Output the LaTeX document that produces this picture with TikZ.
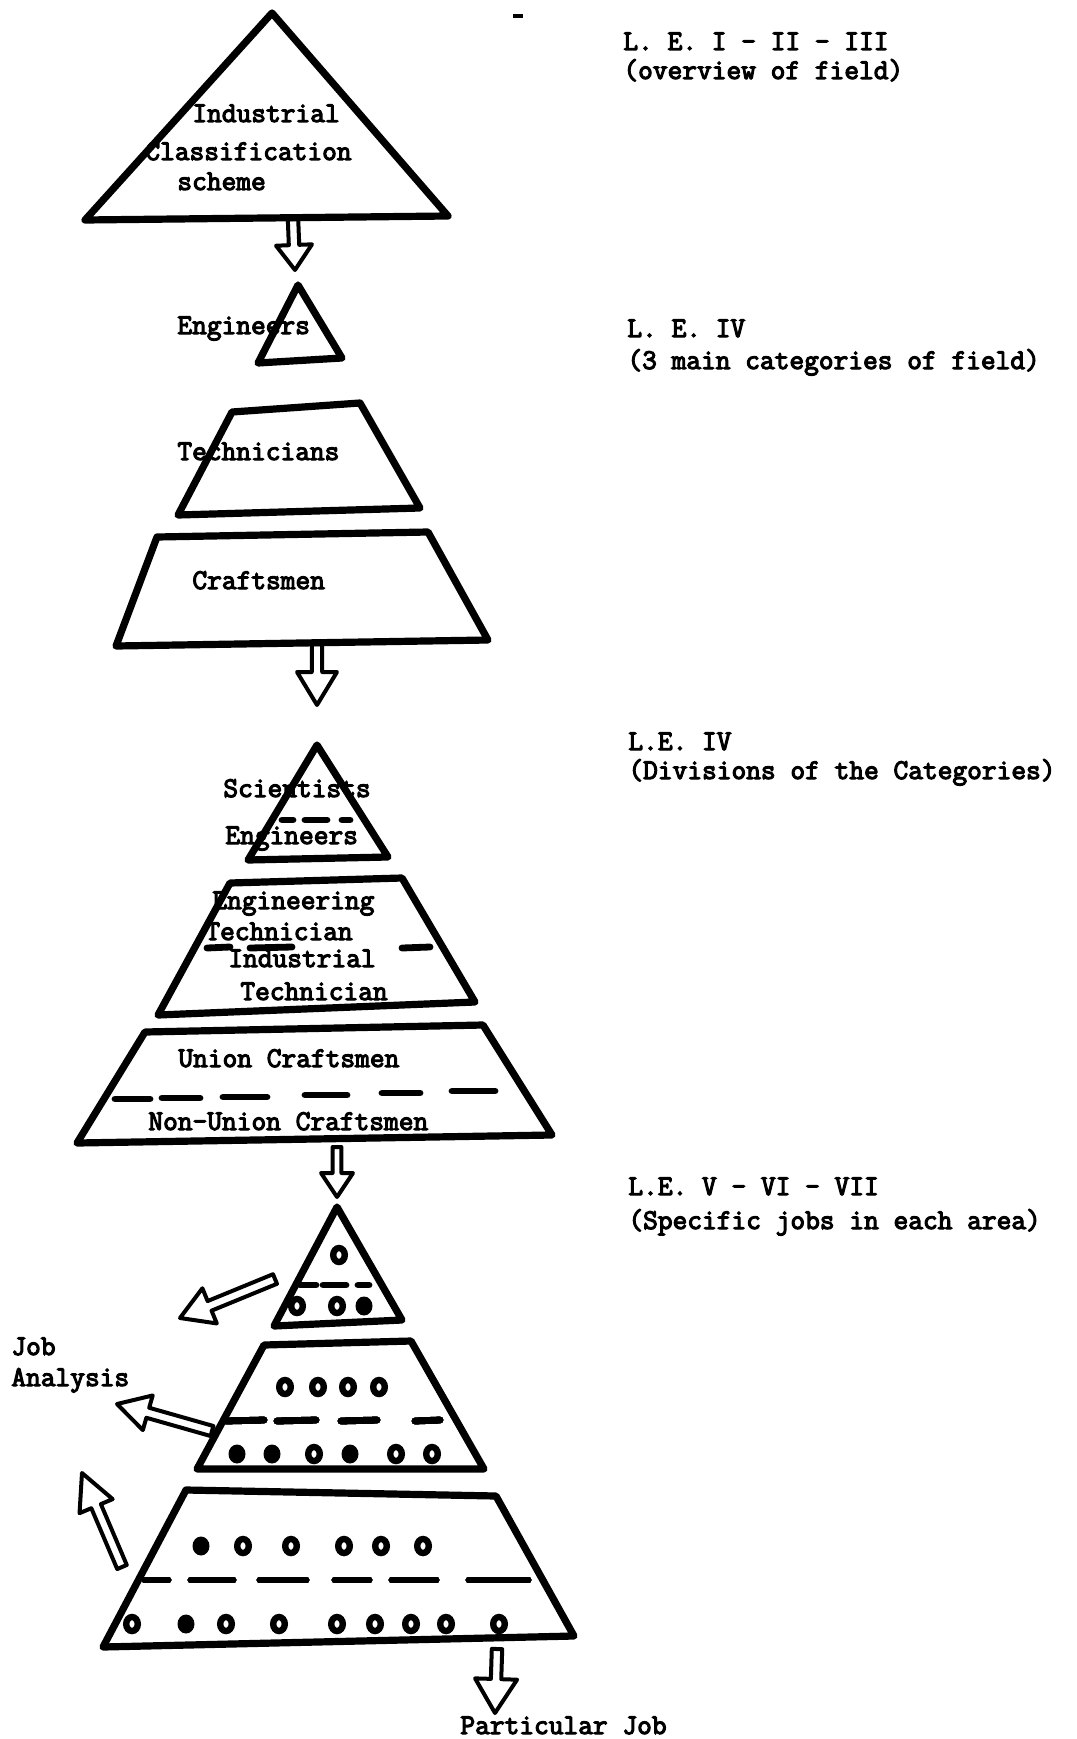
\documentclass[tikz,border=0pt]{standalone}
\usepackage{fontspec}
\newfontfamily\tw{Latin Modern Mono}[FakeBold=4]
\usetikzlibrary{calc}
\tikzset{
  x=0.5pt, y=-0.5pt,
  shapeline/.style={line width=3.6pt, line join=round, line cap=round},
  dashline/.style={line width=3.4pt, line cap=round},
  arrowline/.style={line width=2pt, line join=round},
  ring/.style={line width=3.2pt},
  lbl/.style={anchor=base west, inner sep=0pt, font=\tw\fontsize{14.3}{15}\selectfont},
}
\newcommand{\harrow}[5]{%
  \coordinate (hh) at ($(#2)!#4!(#1)$);
  \draw[arrowline] ($(#1)!#3!90:(#2)$) -- ($(hh)!#3!90:(#2)$) -- ($(hh)!#5!90:(#2)$) -- (#2)
     -- ($(hh)!#5!-90:(#2)$) -- ($(hh)!#3!-90:(#2)$) -- ($(#1)!#3!-90:(#2)$) -- cycle;
}
\newcommand{\ringat}[2]{\draw[ring] (#1,#2) ellipse[x radius=5.8, y radius=7];}
\newcommand{\dotat}[2]{\fill (#1,#2) ellipse[x radius=8.5, y radius=9.5];}
\begin{document}
\begin{tikzpicture}
\useasboundingbox (0,0) rectangle (1076,1739);
% ---------- Level 1: Industrial classification scheme
\draw[shapeline] (272,13) -- (448,216) -- (85,220) -- cycle;
\node[lbl] (ind1) at (192,122) {Industrial};
\node[lbl] (ind2) at (145,160) {Classification};
\node[lbl] (ind3) at (177,190) {scheme};
\coordinate (a1s) at (293,219);
\coordinate (a1e) at (295,270);
\harrow{a1s}{a1e}{2.6pt}{12.5pt}{9pt}
% ---------- Level 2: three main categories
\draw[shapeline] (298,285) -- (342,358) -- (258,363) -- cycle;
\node[lbl] (eng) at (177,334) {Engineers};
\draw[shapeline] (232,412) -- (360,403) -- (420,508) -- (178,515) -- cycle;
\node[lbl] (tech) at (177,460) {Technicians};
\draw[shapeline] (157,537) -- (428,532) -- (488,640) -- (116,646) -- cycle;
\node[lbl] (craft) at (192,589) {Craftsmen};
\coordinate (a2s) at (317,644);
\coordinate (a2e) at (317,705);
\harrow{a2s}{a2e}{2.6pt}{16.5pt}{10pt}
% ---------- Level 3: divisions of the categories
\draw[shapeline] (317,745) -- (388,857) -- (248,860) -- cycle;
\foreach \xa/\xb in {282/293,305/327,342/350} \draw[dashline] (\xa,820) -- (\xb,820);
\node[lbl] (sci) at (223,797) {Scientists};
\node[lbl] (eng2) at (225,844) {Engineers};
\draw[shapeline] (230,883) -- (402,878) -- (475,1002) -- (158,1015) -- cycle;
\foreach \xa/\xb in {207/230,250/292,402/430} \draw[dashline] (\xa,948) -- (\xb,947);
\node[lbl] (et1) at (212,909) {Engineering};
\node[lbl] (et2) at (205,940) {Technician};
\node[lbl] (it1) at (228,967) {Industrial};
\node[lbl] (it2) at (240,1000) {Technician};
\draw[shapeline] (145,1032) -- (483,1025) -- (552,1135) -- (77,1143) -- cycle;
\foreach \xa/\xb/\yy in {115/150/1099,162/200/1098,223/267/1097,305/347/1095,382/420/1093,452/495/1091}
  \draw[dashline] (\xa,\yy) -- (\xb,\yy);
\node[lbl] (uc) at (178,1067) {Union Craftsmen};
\node[lbl] (nuc) at (148,1130) {Non-Union Craftsmen};
\coordinate (a3s) at (337,1147);
\coordinate (a3e) at (337,1197);
\harrow{a3s}{a3e}{2.2pt}{12pt}{8pt}
% ---------- Level 4: specific jobs
\draw[shapeline] (337,1207) -- (402,1320) -- (274,1326) -- cycle;
\ringat{339}{1255}
\foreach \xa/\xb in {300/316,323/346,358/369} \draw[dashline] (\xa,1285) -- (\xb,1285);
\ringat{297}{1306} \ringat{337}{1306} \dotat{364}{1306}
\draw[shapeline] (264,1345) -- (411,1341) -- (484,1469) -- (197,1469) -- cycle;
\foreach \xx in {285,318,348,379} \ringat{\xx}{1387}
\foreach \xa/\xb in {226/264,277/316,341/377,415/440} \draw[dashline] (\xa,1421) -- (\xb,1420);
\dotat{237}{1454} \dotat{272}{1454} \ringat{314}{1454} \dotat{350}{1454} \ringat{396}{1454} \ringat{432}{1454}
\draw[shapeline] (186,1490) -- (496,1496) -- (574,1636) -- (103,1647) -- cycle;
\dotat{201}{1546}
\foreach \xx in {243,291,344,381,423} \ringat{\xx}{1546}
\foreach \xa/\xb in {145/168,191/233,260/306,335/369,392/436,469/528} \draw[dashline] (\xa,1580) -- (\xb,1580);
\ringat{132}{1624} \dotat{186}{1624}
\foreach \xx in {226,279,337,375,411,446,499} \ringat{\xx}{1624}
% job analysis arrows
\coordinate (a4s) at (275,1279);
\coordinate (a4e) at (180,1318);
\harrow{a4s}{a4e}{2.6pt}{16pt}{9.5pt}
\coordinate (a5s) at (212,1431);
\coordinate (a5e) at (117,1404);
\harrow{a5s}{a5e}{2.6pt}{16pt}{9pt}
\coordinate (a6s) at (122,1567);
\coordinate (a6e) at (82,1473);
\harrow{a6s}{a6e}{2.6pt}{18pt}{9pt}
\node[lbl] (job) at (11,1355) {Job};
\node[lbl] (ana) at (11,1386) {Analysis};
% particular job
\coordinate (a7s) at (497,1649);
\coordinate (a7e) at (495,1713);
\harrow{a7s}{a7e}{2.6pt}{17pt}{10.5pt}
\node[lbl] (pj) at (460,1734) {Particular Job};
% ---------- right-hand labels
\node[lbl] (r1a) at (623,50) {L. E. I - II - III};
\node[lbl] (r1b) at (623,79) {(overview of field)};
\node[lbl] (r2a) at (627,337) {L. E. IV};
\node[lbl] (r2b) at (627,369) {(3 main categories of field)};
\node[lbl] (r3a) at (628,750) {L.E. IV};
\node[lbl] (r3b) at (628,779) {(Divisions of the Categories)};
\node[lbl] (r4a) at (628,1195) {L.E. V - VI - VII};
\node[lbl] (r4b) at (628,1229) {(Specific jobs in each area)};
% specks
\fill (513,14) rectangle (523,18);
\end{tikzpicture}
\end{document}
